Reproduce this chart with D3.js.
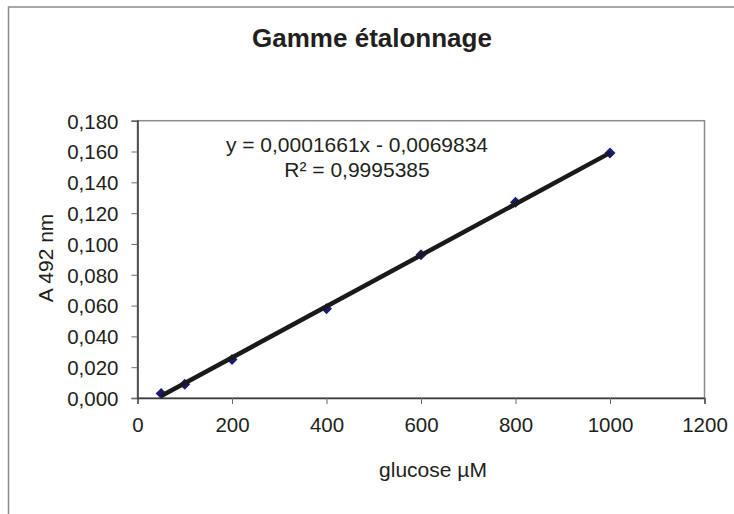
<!DOCTYPE html>
<html><head><meta charset="utf-8">
<script src="https://cdn.jsdelivr.net/npm/d3@7"></script>
<style>
html,body{margin:0;padding:0;background:#fff;}
text{font-family:"Liberation Sans",Arial,sans-serif;fill:#231f20;}
</style></head>
<body>
<svg id="c" width="734" height="514"></svg>
<script>
const glucose = [50, 100, 200, 400, 600, 800, 1000];
const absorbance = [0.003, 0.009, 0.025, 0.058, 0.093, 0.127, 0.159];
const slope = 0.0001661, intercept = -0.0069834;
const xTicks = [0, 200, 400, 600, 800, 1000, 1200];
const yTicks = [0, 0.02, 0.04, 0.06, 0.08, 0.10, 0.12, 0.14, 0.16, 0.18];
const title = "Gamme étalonnage";
const eqText = "y = 0,0001661x - 0,0069834";
const r2Text = "R² = 0,9995385";
const xTitle = "glucose µM", yTitle = "A 492 nm";

const svg = d3.select("#c");
const L = 137.5, R = 704.5, T = 120.7, B = 398;
const x = d3.scaleLinear().domain([0, 1200]).range([L, R]);
const y = d3.scaleLinear().domain([0, 0.18]).range([B, T]);

// outer chart border
svg.append("rect").attr("x", 8.5).attr("y", 7).attr("width", 760).attr("height", 560)
  .attr("fill", "#fff").attr("stroke", "#8c8c8c").attr("stroke-width", 1.5);

// plot area border
svg.append("rect").attr("x", L).attr("y", T).attr("width", R - L).attr("height", B - T)
  .attr("fill", "#fff").attr("stroke", "#8c8c8c").attr("stroke-width", 1.5);

const fmt = d => d3.format(".3f")(d).replace(".", ",");

const xAxis = svg.append("g").attr("transform", `translate(0,${B})`)
  .call(d3.axisBottom(x).tickValues(xTicks).tickSize(6).tickPadding(14).tickFormat(d3.format("d")));
const yAxis = svg.append("g").attr("transform", `translate(${L},0)`)
  .call(d3.axisLeft(y).tickValues(yTicks).tickSize(6).tickPadding(14).tickFormat(fmt));
[xAxis, yAxis].forEach(g => {
  g.select(".domain").attr("stroke", "#3a3a3a").attr("stroke-width", 1.5);
  g.selectAll(".tick line").attr("stroke", "#6a6a6a").attr("stroke-width", 1);
  g.selectAll(".tick text").style("font-size", "20.5px").style("font-family", "Liberation Sans, Arial, sans-serif").attr("fill", "#231f20");
});
xAxis.selectAll(".tick text").attr("dy", "0.71em").attr("y", 19);
yAxis.selectAll(".tick text").attr("x", -19).attr("dy", "0.36em");

// data markers (diamonds)
const diamond = { draw(ctx, size) { const r = Math.sqrt(size) / 2; ctx.moveTo(0, -r); ctx.lineTo(r, 0); ctx.lineTo(0, r); ctx.lineTo(-r, 0); ctx.closePath(); } };
svg.selectAll("path.pt").data(glucose).enter().append("path")
  .attr("class", "pt")
  .attr("d", d3.symbol().type(diamond).size(121))
  .attr("transform", (d, i) => `translate(${x(d)},${y(absorbance[i])})`)
  .attr("fill", "#1c1c78");

// trendline
const ext = d3.extent(glucose);
svg.append("line")
  .attr("x1", x(ext[0])).attr("y1", y(slope * ext[0] + intercept))
  .attr("x2", x(ext[1])).attr("y2", y(slope * ext[1] + intercept))
  .attr("stroke", "#1a1a1a").attr("stroke-width", 4.5);

// texts
svg.append("text").attr("x", 372).attr("y", 47).attr("text-anchor", "middle")
  .style("font-size", "26px").style("font-weight", "bold").text(title);
svg.append("text").attr("x", 357).attr("y", 152).attr("text-anchor", "middle")
  .style("font-size", "21px").text(eqText);
svg.append("text").attr("x", 357).attr("y", 177).attr("text-anchor", "middle")
  .style("font-size", "21px").text(r2Text);
svg.append("text").attr("x", 433).attr("y", 477).attr("text-anchor", "middle")
  .style("font-size", "21px").text(xTitle);
svg.append("text").attr("transform", "translate(53,258) rotate(-90)").attr("text-anchor", "middle")
  .style("font-size", "21px").text(yTitle);
</script>
</body></html>
